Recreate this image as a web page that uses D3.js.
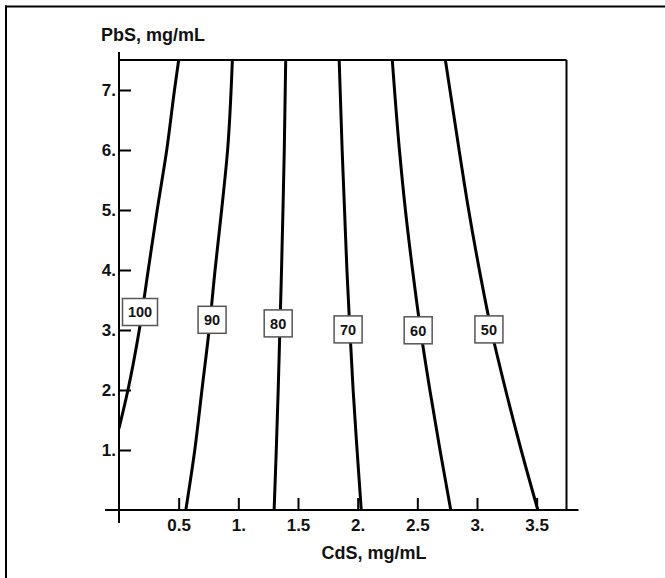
<!DOCTYPE html>
<html>
<head>
<meta charset="utf-8">
<script src="https://cdn.jsdelivr.net/npm/d3@7"></script>
<style>
  html, body { margin: 0; padding: 0; background: #fff; }
  svg { display: block; font-family: "Liberation Sans", Arial, sans-serif; }
</style>
</head>
<body>
<svg id="chart" width="665" height="578"></svg>
<script>
// ---- data ----
const xTickValues = [0.5, 1, 1.5, 2, 2.5, 3, 3.5];
const xTickLabels = ["0.5", "1.", "1.5", "2.", "2.5", "3.", "3.5"];
const yTickValues = [1, 2, 3, 4, 5, 6, 7];
const yTickLabels = ["1.", "2.", "3.", "4.", "5.", "6.", "7."];
const xTitle = "CdS, mg/mL";
const yTitle = "PbS, mg/mL";

// contour levels: PbS (y) values and the CdS (x) value where each contour crosses them
const contourLevels = ["100", "90", "80", "70", "60", "50"];
const pbsValues100 = [1.36, 2.0, 3.0, 4.0, 5.0, 6.0, 7.0, 7.5];
const cdsValues100 = [0.0, 0.075, 0.17, 0.245, 0.32, 0.40, 0.465, 0.50];
const pbsValues90 = [0, 1, 2, 3, 4, 5, 6, 7.5];
const cdsValues90 = [0.56, 0.635, 0.695, 0.755, 0.805, 0.86, 0.91, 0.95];
const pbsValues80 = [0, 1, 2, 3, 4, 5, 6, 7.5];
const cdsValues80 = [1.30, 1.318, 1.334, 1.348, 1.362, 1.374, 1.385, 1.397];
const pbsValues70 = [0, 1, 2, 3, 4, 5, 6, 7.5];
const cdsValues70 = [2.03, 1.995, 1.962, 1.935, 1.91, 1.89, 1.87, 1.845];
const pbsValues60 = [0, 1, 2, 3, 4, 5, 6, 7.5];
const cdsValues60 = [2.78, 2.69, 2.605, 2.527, 2.46, 2.40, 2.35, 2.29];
const pbsValues50 = [0, 1, 2, 3, 4, 5, 6, 7.5];
const cdsValues50 = [3.51, 3.37, 3.24, 3.12, 3.02, 2.93, 2.85, 2.735];

// label positions (CdS, PbS) for each contour
const labelCdS = [0.176, 0.78, 1.334, 1.92, 2.507, 3.10];
const labelPbS = [3.30, 3.17, 3.11, 3.01, 2.995, 3.01];

const contourPbS = [pbsValues100, pbsValues90, pbsValues80, pbsValues70, pbsValues60, pbsValues50];
const contourCdS = [cdsValues100, cdsValues90, cdsValues80, cdsValues70, cdsValues60, cdsValues50];

// ---- layout ----
const svg = d3.select("#chart");
const x = d3.scaleLinear().domain([0, 3.75]).range([119, 566.5]);
const y = d3.scaleLinear().domain([0, 7.5]).range([510, 60]);

// outer frame (top and left only)
svg.append("line").attr("x1", 5).attr("x2", 665).attr("y1", 6.5).attr("y2", 6.5)
  .attr("stroke", "#000").attr("stroke-width", 2);
svg.append("line").attr("x1", 6).attr("x2", 6).attr("y1", 5.5).attr("y2", 578)
  .attr("stroke", "#000").attr("stroke-width", 2);

svg.append("clipPath").attr("id", "plotclip").append("rect")
  .attr("x", x(0)).attr("y", y(7.5)).attr("width", x(3.75) - x(0)).attr("height", y(0) - y(7.5));

// contour lines
const line = d3.line().x(d => x(d[0])).y(d => y(d[1])).curve(d3.curveMonotoneY);
const gLines = svg.append("g").attr("clip-path", "url(#plotclip)");
contourLevels.forEach((lev, i) => {
  const pts = contourPbS[i].map((p, j) => [contourCdS[i][j], p]);
  gLines.append("path").datum(pts).attr("d", line)
    .attr("fill", "none").attr("stroke", "#000").attr("stroke-width", 3);
});

// axes
const xAxis = d3.axisBottom(x).tickValues(xTickValues)
  .tickFormat((d, i) => xTickLabels[i]).tickSizeInner(-12).tickSizeOuter(0).tickPadding(9);
const gx = svg.append("g").attr("transform", `translate(0,${y(0)})`).call(xAxis);
gx.select(".domain").remove();
gx.selectAll(".tick line").attr("stroke", "#000").attr("stroke-width", 2);
gx.selectAll(".tick text").attr("fill", "#111").attr("font-size", 17).attr("font-weight", "bold")
  .attr("font-family", "Liberation Sans, Arial, sans-serif");

const yAxis = d3.axisLeft(y).tickValues(yTickValues)
  .tickFormat((d, i) => yTickLabels[i]).tickSizeInner(-12).tickSizeOuter(0).tickPadding(3);
const gy = svg.append("g").attr("transform", `translate(${x(0)},0)`).call(yAxis);
gy.select(".domain").remove();
gy.selectAll(".tick line").attr("stroke", "#000").attr("stroke-width", 2);
gy.selectAll(".tick text").attr("fill", "#111").attr("font-size", 17).attr("font-weight", "bold")
  .attr("font-family", "Liberation Sans, Arial, sans-serif");

// axis lines & frame
const frame = svg.append("g").attr("stroke", "#000").attr("stroke-width", 2);
frame.append("line").attr("x1", x(0) - 14).attr("x2", x(3.75) + 12).attr("y1", y(0)).attr("y2", y(0));
frame.append("line").attr("x1", x(0)).attr("x2", x(0)).attr("y1", y(7.5) - 8).attr("y2", y(0) + 13);
frame.append("line").attr("x1", x(0)).attr("x2", x(3.75)).attr("y1", y(7.5)).attr("y2", y(7.5));
frame.append("line").attr("x1", x(3.75)).attr("x2", x(3.75)).attr("y1", y(7.5)).attr("y2", y(0));

// contour labels
contourLevels.forEach((lev, i) => {
  const cx = x(labelCdS[i]), cy = y(labelPbS[i]);
  const w = lev.length > 2 ? 35 : 28, h = 27;
  const g = svg.append("g");
  g.append("rect").attr("x", cx - w / 2).attr("y", cy - h / 2).attr("width", w).attr("height", h)
    .attr("fill", "#fff").attr("stroke", "#555").attr("stroke-width", 1.5);
  g.append("text").attr("x", cx).attr("y", cy).attr("dy", "0.36em").attr("text-anchor", "middle")
    .attr("font-size", 14.5).attr("font-weight", "bold").attr("fill", "#111").text(lev);
});

// titles
svg.append("text").attr("x", 374).attr("y", 559).attr("text-anchor", "middle")
  .attr("font-size", 18).attr("font-weight", "bold").attr("fill", "#111").text(xTitle);
svg.append("text").attr("x", 101).attr("y", 41).attr("text-anchor", "start")
  .attr("font-size", 18).attr("font-weight", "bold").attr("fill", "#111").text(yTitle);
</script>
</body>
</html>
